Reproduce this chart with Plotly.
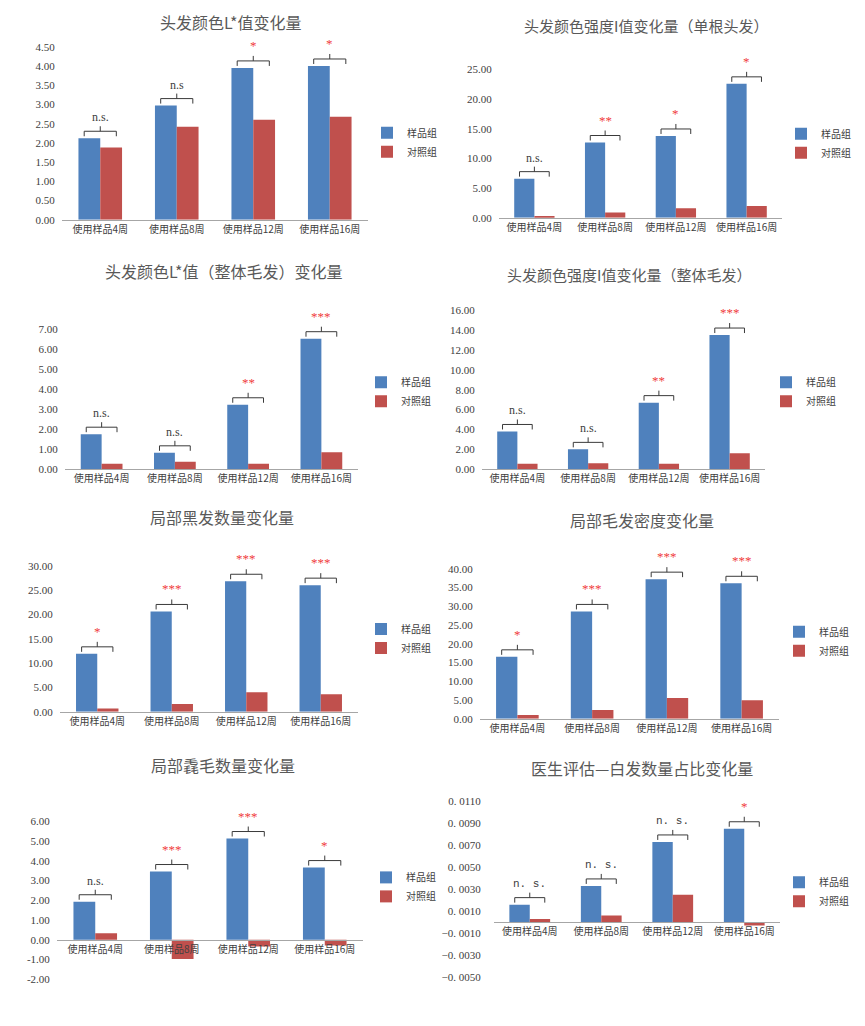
import plotly.graph_objects as go

# page body has an 8px margin: the figure is drawn at (8, 8) in the window
OFF = 8
W, H = 865 - 2 * OFF, 1026 - 2 * OFF

categories = ["使用样品4周", "使用样品8周", "使用样品12周", "使用样品16周"]
series_names = ["样品组", "对照组"]

titles = [
    "头发颜色L*值变化量",
    "头发颜色强度I值变化量（单根头发）",
    "头发颜色L*值（整体毛发）变化量",
    "头发颜色强度I值变化量（整体毛发）",
    "局部黑发数量变化量",
    "局部毛发密度变化量",
    "局部毳毛数量变化量",
    "医生评估—白发数量占比变化量",
]

# Panel 1
sample_1 = [2.12, 2.97, 3.95, 4.00]
control_1 = [1.88, 2.42, 2.60, 2.68]
sig_1 = ["n.s.", "n.s", "*", "*"]
ticks_1 = [0, 0.5, 1.0, 1.5, 2.0, 2.5, 3.0, 3.5, 4.0, 4.5]
ticklabels_1 = ["0.00", "0.50", "1.00", "1.50", "2.00", "2.50", "3.00", "3.50", "4.00", "4.50"]

# Panel 2
sample_2 = [6.6, 12.7, 13.8, 22.6]
control_2 = [0.3, 0.9, 1.6, 2.0]
sig_2 = ["n.s.", "**", "*", "*"]
ticks_2 = [0, 5, 10, 15, 20, 25]
ticklabels_2 = ["0.00", "5.00", "10.00", "15.00", "20.00", "25.00"]

# Panel 3
sample_3 = [1.75, 0.82, 3.22, 6.52]
control_3 = [0.28, 0.38, 0.28, 0.85]
sig_3 = ["n.s.", "n.s.", "**", "***"]
ticks_3 = [0, 1, 2, 3, 4, 5, 6, 7]
ticklabels_3 = ["0.00", "1.00", "2.00", "3.00", "4.00", "5.00", "6.00", "7.00"]

# Panel 4
sample_4 = [3.8, 2.0, 6.7, 13.5]
control_4 = [0.55, 0.6, 0.55, 1.6]
sig_4 = ["n.s.", "n.s.", "**", "***"]
ticks_4 = [0, 2, 4, 6, 8, 10, 12, 14, 16]
ticklabels_4 = ["0.00", "2.00", "4.00", "6.00", "8.00", "10.00", "12.00", "14.00", "16.00"]

# Panel 5
sample_5 = [11.9, 20.6, 26.8, 26.0]
control_5 = [0.7, 1.6, 4.0, 3.6]
sig_5 = ["*", "***", "***", "***"]
ticks_5 = [0, 5, 10, 15, 20, 25, 30]
ticklabels_5 = ["0.00", "5.00", "10.00", "15.00", "20.00", "25.00", "30.00"]

# Panel 6
sample_6 = [16.5, 28.6, 37.2, 36.1]
control_6 = [1.0, 2.3, 5.5, 4.9]
sig_6 = ["*", "***", "***", "***"]
ticks_6 = [0, 5, 10, 15, 20, 25, 30, 35, 40]
ticklabels_6 = ["0.00", "5.00", "10.00", "15.00", "20.00", "25.00", "30.00", "35.00", "40.00"]

# Panel 7
sample_7 = [1.92, 3.45, 5.12, 3.65]
control_7 = [0.33, -0.98, -0.35, -0.30]
sig_7 = ["n.s.", "***", "***", "*"]
ticks_7 = [-2, -1, 0, 1, 2, 3, 4, 5, 6]
ticklabels_7 = ["-2.00", "-1.00", "0.00", "1.00", "2.00", "3.00", "4.00", "5.00", "6.00"]

# Panel 8
sample_8 = [0.0016, 0.0033, 0.0073, 0.0085]
control_8 = [0.0003, 0.0006, 0.0025, -0.0003]
sig_8 = ["n. s.", "n. s.", "n. s.", "*"]
ticks_8 = [-0.005, -0.003, -0.001, 0.001, 0.003, 0.005, 0.007, 0.009, 0.011]
ticklabels_8 = ["−0. 0050", "−0. 0030", "−0. 0010", "0. 0010", "0. 0030",
                "0. 0050", "0. 0070", "0. 0090", "0. 0110"]

samples = [sample_1, sample_2, sample_3, sample_4, sample_5, sample_6, sample_7, sample_8]
controls = [control_1, control_2, control_3, control_4, control_5, control_6, control_7, control_8]
sigs = [sig_1, sig_2, sig_3, sig_4, sig_5, sig_6, sig_7, sig_8]
ticks = [ticks_1, ticks_2, ticks_3, ticks_4, ticks_5, ticks_6, ticks_7, ticks_8]
ticklabels = [ticklabels_1, ticklabels_2, ticklabels_3, ticklabels_4,
              ticklabels_5, ticklabels_6, ticklabels_7, ticklabels_8]

# ---- layout geometry (window pixels) ----
plot_px = [  # x_left, x_right, px of lowest tick, px of highest tick
    (62, 368, 221, 47),
    (499, 782, 219, 70),
    (65, 358, 472, 331),
    (482, 765, 472, 312),
    (60, 358, 716, 569),
    (480, 779, 723, 572),
    (57, 363, 985, 826),
    (494, 780, 983, 806),
]
legend_px = [(383, 119), (797, 120), (377, 370), (782, 370),
             (377, 618), (795, 621), (382, 868), (795, 873)]
title_px = [(230, 22, 16), (646, 26, 15), (224, 273, 16), (629, 276, 15),
            (222, 520, 16), (642, 523, 16), (223, 770, 16), (642, 773, 16)]


def fx(px):
    return (px - OFF) / W


def fy(py):
    return 1 - (py - OFF) / H


BLUE = "#4F81BD"
RED = "#C0504D"
TXT = "#404040"
CJK = "Noto Sans CJK SC"
SERIF = "Liberation Serif"

fig = go.Figure()
layout = dict(
    width=W, height=H,
    margin=dict(l=0, r=0, t=0, b=0),
    paper_bgcolor="white", plot_bgcolor="white",
    barmode="group", bargap=0.43, bargroupgap=0,
)
shapes = []
annotations = []

for k in range(8):
    sfx = "" if k == 0 else str(k + 1)
    xa, ya = "x" + sfx, "y" + sfx
    lg = "legend" + sfx
    xl, xr, pb, pt = plot_px[k]
    tv = ticks[k]
    tmin, tmax = min(tv), max(tv)
    ppu = (pb - pt) / (tmax - tmin)
    rmax = tmax + (tmax - tmin) * 0.07
    top_px = pb - (rmax - tmin) * ppu
    ydom = [fy(pb), fy(top_px)]
    xdom = [fx(xl), fx(xr)]

    fig.add_trace(go.Bar(x=categories, y=samples[k], name=series_names[0],
                         marker=dict(color=BLUE, line=dict(width=0)),
                         xaxis=xa, yaxis=ya, legend=lg))
    fig.add_trace(go.Bar(x=categories, y=controls[k], name=series_names[1],
                         marker=dict(color=RED, line=dict(width=0)),
                         xaxis=xa, yaxis=ya, legend=lg))

    xaxis = dict(domain=xdom, type="category", showline=True, linecolor="#A6A6A6",
                 linewidth=1, showgrid=False, zeroline=False, ticks="",
                 tickfont=dict(family=CJK, size=10, color=TXT),
                 range=[-0.5, 3.5], fixedrange=True)
    if tmin < 0:
        zero_px = pb - (0 - tmin) * ppu
        xaxis.update(anchor="free", position=fy(zero_px))
    else:
        xaxis.update(anchor=ya)
    yaxis = dict(domain=ydom, range=[tmin, rmax], anchor=xa, showline=False,
                 showgrid=False, zeroline=False, tickmode="array", tickvals=tv,
                 ticktext=ticklabels[k], ticks="outside",
                 ticklen=(10 if k == 7 else 4),
                 tickcolor="rgba(0,0,0,0)",
                 tickfont=dict(family=SERIF, size=11, color=TXT))
    layout["xaxis" + sfx] = xaxis
    layout["yaxis" + sfx] = yaxis

    lx, ly = legend_px[k]
    layout[lg] = dict(x=fx(lx - 16), y=fy(ly), xanchor="left", yanchor="top",
                      bgcolor="rgba(0,0,0,0)", font=dict(family=CJK, size=10, color=TXT),
                      itemwidth=30, tracegroupgap=0)

    cx, cy, fs = title_px[k]
    annotations.append(dict(text=titles[k], xref="paper", yref="paper",
                            x=fx(cx), y=fy(cy), xanchor="center", yanchor="middle",
                            showarrow=False, font=dict(family=CJK, size=fs, color="#595959")))

    # significance brackets
    for i in range(4):
        v = max(samples[k][i], controls[k][i])
        hw = 0.21
        common = dict(type="line", xref=xa, yref=ya, ysizemode="pixel", yanchor=v,
                      line=dict(color="#3A3A3A", width=1))
        shapes.append(dict(common, x0=i - hw, x1=i - hw, y0=2, y1=7))
        shapes.append(dict(common, x0=i + hw, x1=i + hw, y0=2, y1=7))
        shapes.append(dict(common, x0=i - hw, x1=i + hw, y0=7, y1=7))
        shapes.append(dict(common, x0=i, x1=i, y0=7, y1=12))
        s = sigs[k][i]
        star = s.startswith("*")
        if star:
            f = dict(family=SERIF, size=13, color="#F03C3C")
            shift = 13
        elif k == 7:
            f = dict(family="Liberation Mono", size=11, color=TXT)
            shift = 13
        else:
            f = dict(family=SERIF, size=12, color=TXT)
            shift = 12
        annotations.append(dict(text=s, xref=xa, yref=ya, x=categories[i], y=v,
                                xanchor="center", yanchor="bottom", yshift=shift,
                                showarrow=False, font=f))

layout["shapes"] = shapes
layout["annotations"] = annotations
fig.update_layout(**layout)
fig.write_html("out.html")
